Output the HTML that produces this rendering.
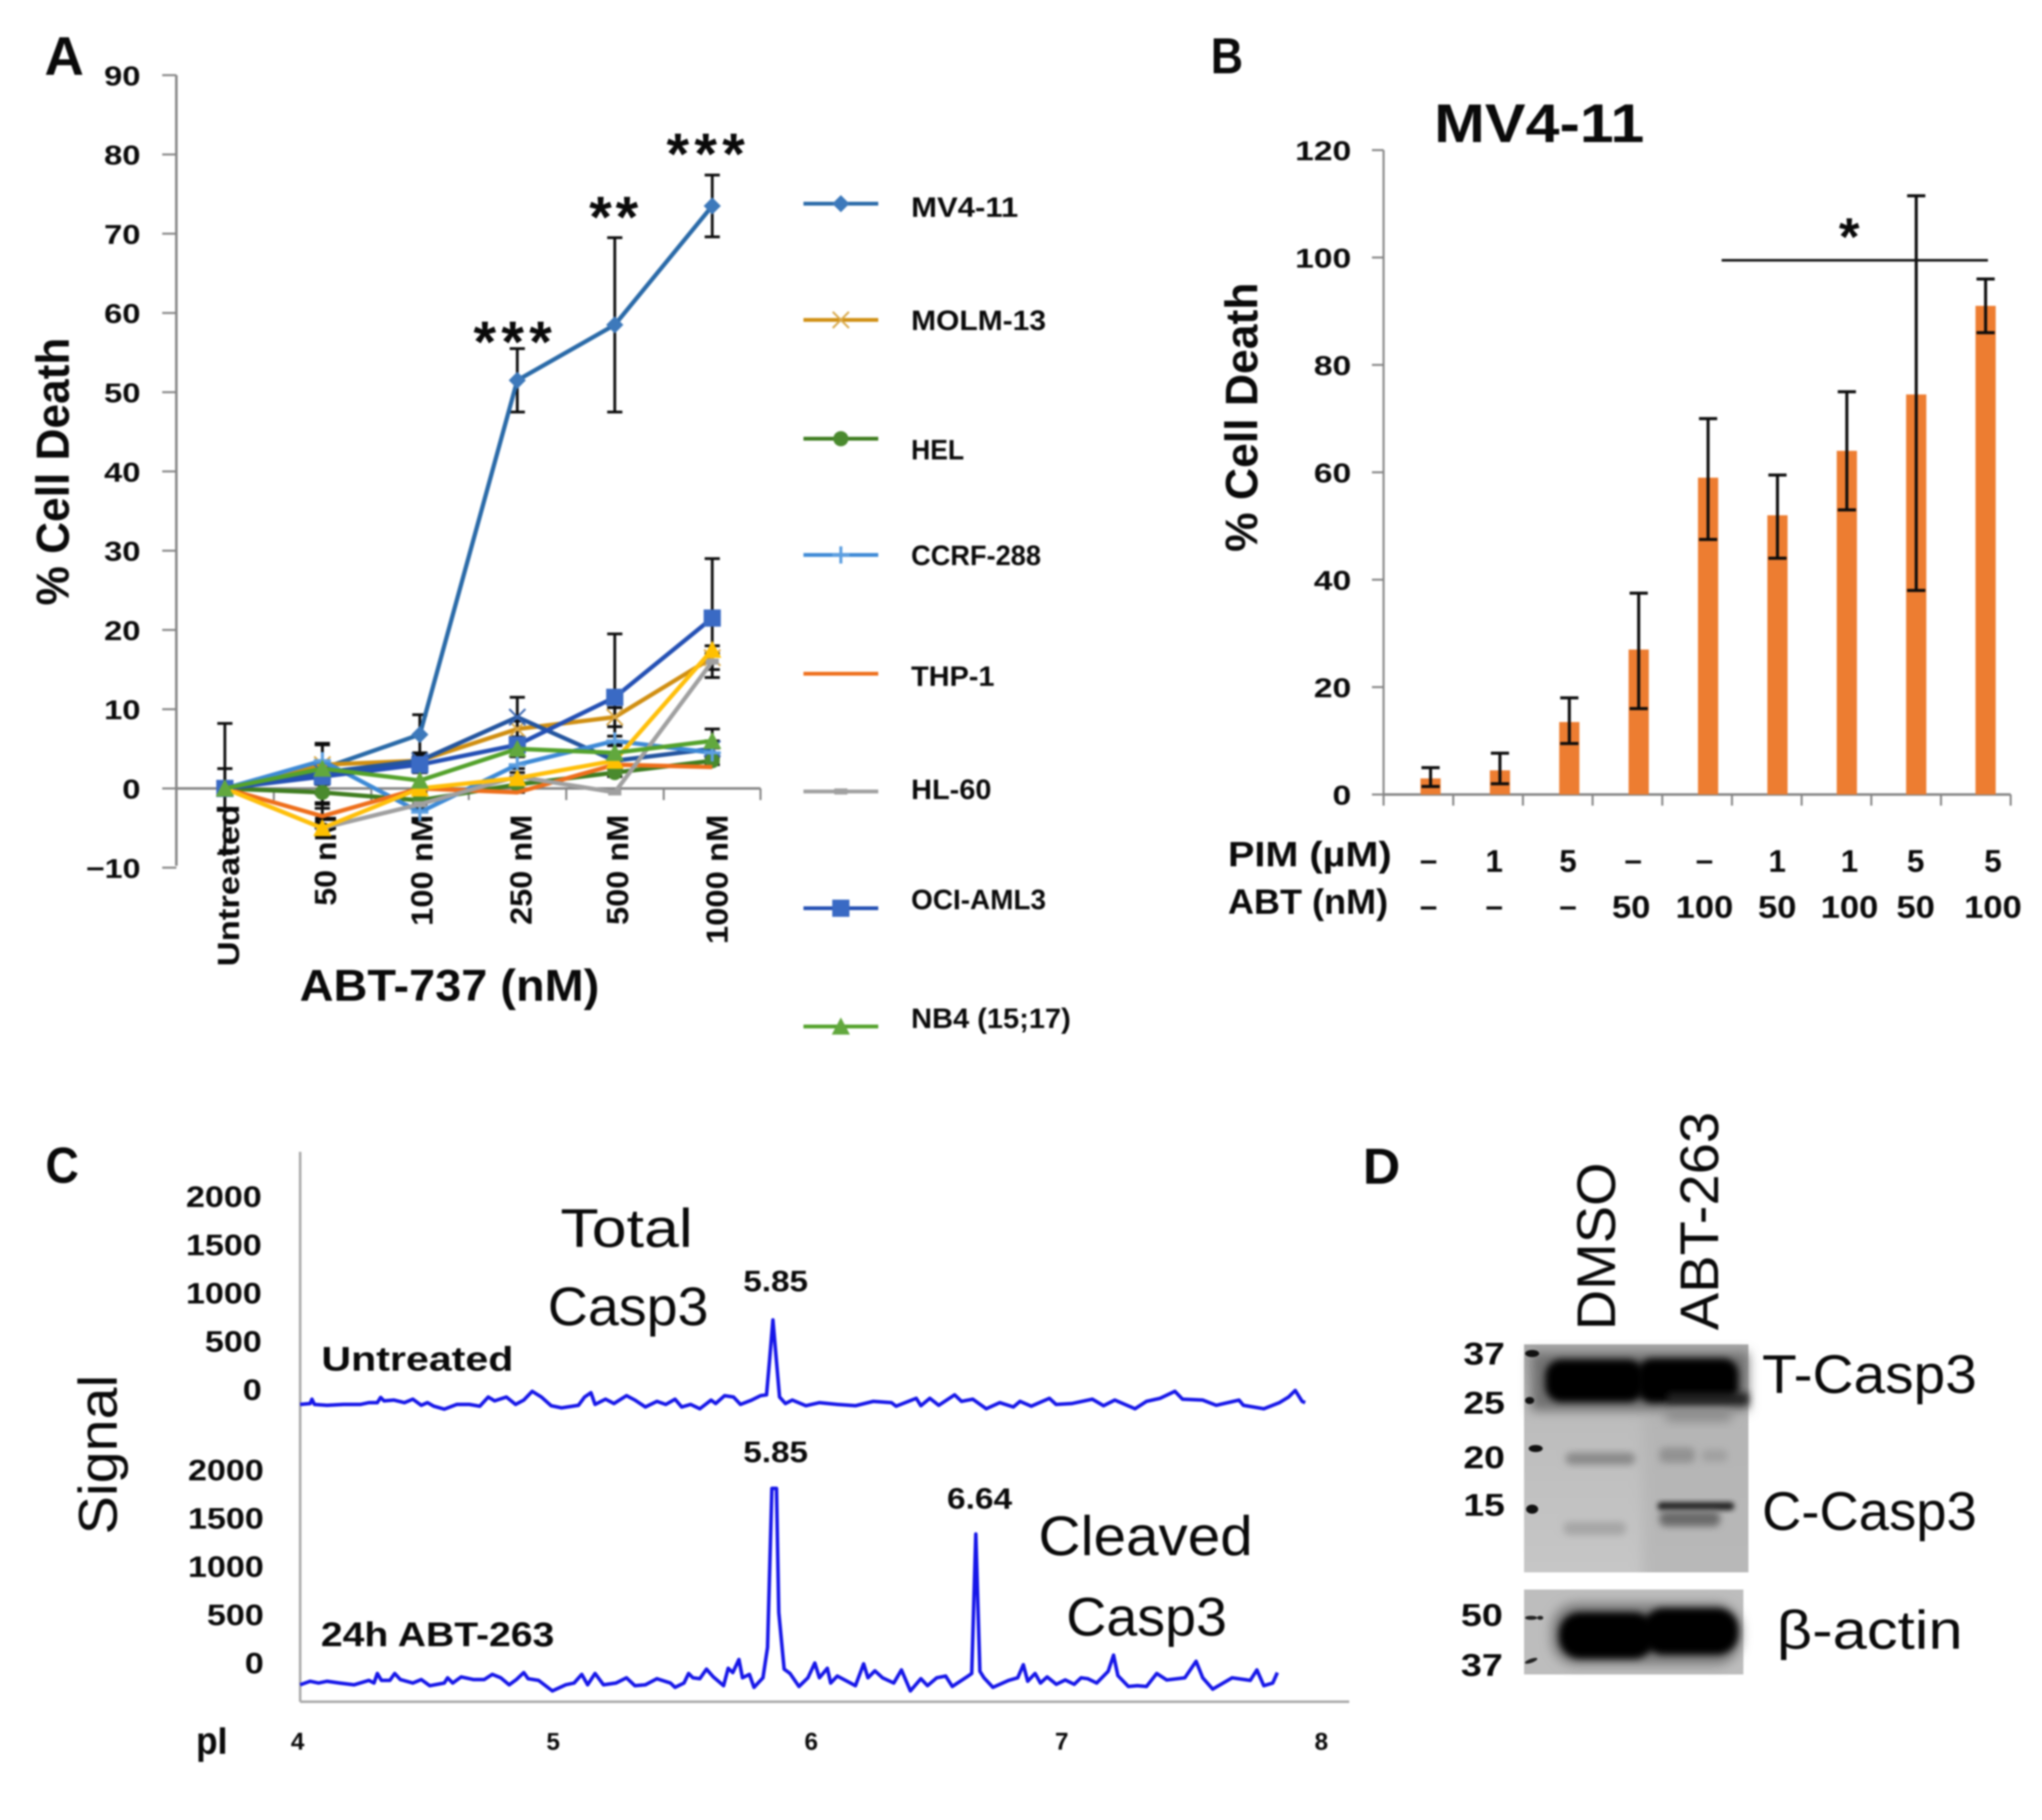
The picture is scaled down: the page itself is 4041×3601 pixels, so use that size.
<!DOCTYPE html>
<html lang="en">
<head>
<meta charset="utf-8">
<title>ABT-737 and ABT-263 figure</title>
<style>
html,body{margin:0;padding:0;background:#fff;}
svg{display:block;filter:blur(1.8px);}
text{font-family:"Liberation Sans",sans-serif;fill:#0a0a0a;}
.b{font-weight:bold;}
</style>
</head>
<body>
<svg id="figure" xmlns="http://www.w3.org/2000/svg" width="4041" height="3601" viewBox="0 0 4041 3601">
<defs>
<filter id="blur4" x="-20%" y="-50%" width="140%" height="200%"><feGaussianBlur stdDeviation="5"/></filter>
<filter id="blur6" x="-20%" y="-50%" width="140%" height="200%"><feGaussianBlur stdDeviation="7"/></filter>
<filter id="blur9" x="-20%" y="-60%" width="140%" height="220%"><feGaussianBlur stdDeviation="11"/></filter>
<linearGradient id="blotGrad" x1="0" y1="0" x2="0" y2="1"><stop offset="0" stop-color="#a8a8a8"/><stop offset="0.3" stop-color="#bcbcbc"/><stop offset="1" stop-color="#c6c6c6"/></linearGradient>
<clipPath id="blotClip"><rect x="3016" y="2660" width="444" height="451"/></clipPath>
</defs>
<rect width="4041" height="3601" fill="#fff"/>

<!-- Panel letters -->
<text class="b" x="88" y="148" font-size="108" textLength="78" lengthAdjust="spacingAndGlyphs">A</text>
<text class="b" x="2396" y="145" font-size="100" textLength="64" lengthAdjust="spacingAndGlyphs">B</text>
<text class="b" x="90" y="2340" font-size="100" textLength="66" lengthAdjust="spacingAndGlyphs">C</text>
<text class="b" x="2697" y="2342" font-size="100" textLength="74" lengthAdjust="spacingAndGlyphs">D</text>

<!-- Panel A -->
<g id="panelA"></g>
<text class="b" transform="translate(136,1198) rotate(-90)" font-size="92" textLength="530" lengthAdjust="spacingAndGlyphs">% Cell Death</text>
<text class="b" x="593" y="1980" font-size="88" textLength="593" lengthAdjust="spacingAndGlyphs">ABT-737 (nM)</text>
<text class="b" x="937" y="716" font-size="115" textLength="155" lengthAdjust="spacing">***</text>
<text class="b" x="1166" y="469" font-size="115" textLength="97" lengthAdjust="spacing">**</text>
<text class="b" x="1319" y="344" font-size="115" textLength="155" lengthAdjust="spacing">***</text>

<!-- Panel B -->
<g id="panelB"></g>
<text class="b" x="2838" y="281" font-size="108" textLength="416" lengthAdjust="spacingAndGlyphs">MV4-11</text>
<text class="b" transform="translate(2488,1092) rotate(-90)" font-size="90" textLength="533" lengthAdjust="spacingAndGlyphs">% Cell Death</text>
<line x1="3407" x2="3934" y1="515" y2="515" stroke="#111" stroke-width="5"/>
<text class="b" x="3639" y="504" font-size="105">*</text>
<text class="b" x="2430" y="1714" font-size="70" textLength="324" lengthAdjust="spacingAndGlyphs">PIM (µM)</text>
<text class="b" x="2430" y="1808" font-size="70" textLength="317" lengthAdjust="spacingAndGlyphs">ABT (nM)</text>

<!-- Panel C -->
<g id="panelC"></g>
<text transform="translate(231,3036) rotate(-90)" font-size="108" textLength="316" lengthAdjust="spacingAndGlyphs">Signal</text>
<text class="b" x="388" y="3470" font-size="76" textLength="62" lengthAdjust="spacingAndGlyphs">pI</text>
<text class="b" x="636" y="2712" font-size="68" textLength="380" lengthAdjust="spacingAndGlyphs">Untreated</text>
<text class="b" x="635" y="3257" font-size="68" textLength="462" lengthAdjust="spacingAndGlyphs">24h ABT-263</text>
<text x="1109" y="2467" font-size="108" textLength="262" lengthAdjust="spacingAndGlyphs">Total</text>
<text x="1084" y="2622" font-size="108" textLength="318" lengthAdjust="spacingAndGlyphs">Casp3</text>
<text class="b" x="1471" y="2555" font-size="58" textLength="128" lengthAdjust="spacingAndGlyphs">5.85</text>
<text class="b" x="1471" y="2893" font-size="58" textLength="128" lengthAdjust="spacingAndGlyphs">5.85</text>
<text class="b" x="1874" y="2985" font-size="58" textLength="129" lengthAdjust="spacingAndGlyphs">6.64</text>
<text x="2055" y="3077" font-size="110" textLength="424" lengthAdjust="spacingAndGlyphs">Cleaved</text>
<text x="2110" y="3236" font-size="108" textLength="318" lengthAdjust="spacingAndGlyphs">Casp3</text>

<!-- Panel D -->
<g>
  <text transform="translate(3196,2632) rotate(-90)" font-size="108" textLength="332" lengthAdjust="spacingAndGlyphs">DMSO</text>
  <text transform="translate(3400,2632) rotate(-90)" font-size="108" textLength="432" lengthAdjust="spacingAndGlyphs">ABT-263</text>
  <g>
    <rect x="3016" y="2660" width="444" height="451" fill="url(#blotGrad)"/>
    <g clip-path="url(#blotClip)"><rect x="3250" y="2800" width="240" height="340" fill="#b0b0b0" opacity="0.6" filter="url(#blur9)"/></g>
    <rect x="3030" y="2676" width="430" height="115" fill="#6f6f6f" filter="url(#blur9)"/>
    <rect x="3058" y="2690" width="196" height="84" rx="32" fill="#030303" filter="url(#blur6)"/>
    <rect x="3240" y="2688" width="200" height="88" rx="30" fill="#030303" filter="url(#blur6)"/>
    <rect x="3300" y="2756" width="160" height="24" fill="#222" filter="url(#blur6)"/>
    <rect x="3296" y="2786" width="130" height="26" fill="#8a8a8a" filter="url(#blur9)"/>
    <rect x="3098" y="2874" width="138" height="24" rx="12" fill="#8a8a8a" filter="url(#blur6)"/>
    <rect x="3284" y="2864" width="70" height="30" rx="10" fill="#929292" filter="url(#blur6)"/>
    <rect x="3368" y="2868" width="50" height="24" rx="10" fill="#a0a0a0" filter="url(#blur6)"/>
    <rect x="3280" y="2972" width="152" height="16" rx="8" fill="#222" filter="url(#blur4)"/>
    <rect x="3284" y="2990" width="120" height="30" rx="12" fill="#6a6a6a" filter="url(#blur6)"/>
    <rect x="3094" y="3011" width="124" height="26" rx="12" fill="#a6a6a6" filter="url(#blur6)"/>
    <ellipse cx="3032" cy="2678" rx="14" ry="7" fill="#111"/>
    <ellipse cx="3027" cy="2771" rx="9" ry="7" fill="#111"/>
    <ellipse cx="3039" cy="2866" rx="14" ry="7" fill="#111"/>
    <ellipse cx="3032" cy="2986" rx="12" ry="9" fill="#111"/>
  </g>
  <g>
    <rect x="3016" y="3145" width="434" height="168" fill="#bdbdbd"/>
    <rect x="3070" y="3172" width="375" height="122" rx="50" fill="#7a7a7a" filter="url(#blur9)"/>
    <rect x="3085" y="3190" width="190" height="92" rx="42" fill="#030303" filter="url(#blur6)"/>
    <rect x="3250" y="3182" width="190" height="92" rx="42" fill="#030303" filter="url(#blur6)"/>
    <ellipse cx="3030" cy="3201" rx="12" ry="4" fill="#222"/>
    <ellipse cx="3048" cy="3201" rx="6" ry="4" fill="#222"/>
    <ellipse cx="3030" cy="3286" rx="13" ry="4" fill="#222" transform="rotate(-20 3030 3286)"/>
  </g>
  <text class="b" x="2896" y="2700" font-size="62" textLength="82" lengthAdjust="spacingAndGlyphs">37</text>
  <text class="b" x="2896" y="2797" font-size="62" textLength="82" lengthAdjust="spacingAndGlyphs">25</text>
  <text class="b" x="2896" y="2905" font-size="62" textLength="82" lengthAdjust="spacingAndGlyphs">20</text>
  <text class="b" x="2896" y="2999" font-size="62" textLength="82" lengthAdjust="spacingAndGlyphs">15</text>
  <text class="b" x="2891" y="3217" font-size="62" textLength="83" lengthAdjust="spacingAndGlyphs">50</text>
  <text class="b" x="2891" y="3316" font-size="62" textLength="83" lengthAdjust="spacingAndGlyphs">37</text>
  <text x="3487" y="2756" font-size="108" textLength="425" lengthAdjust="spacingAndGlyphs">T-Casp3</text>
  <text x="3487" y="3027" font-size="108" textLength="425" lengthAdjust="spacingAndGlyphs">C-Casp3</text>
  <text x="3516" y="3262" font-size="108" textLength="368" lengthAdjust="spacingAndGlyphs">β-actin</text>
</g>

<script>
// ---------- Panel A data ----------
const doseLabels = ['Untreated', '50 nM', '100 nM', '250 nM', '500 nM', '1000 nM'];
const aYTicks = [-10, 0, 10, 20, 30, 40, 50, 60, 70, 80, 90];
const seriesNames = ['MV4-11', 'MOLM-13', 'HEL', 'CCRF-288', 'THP-1', 'HL-60', 'OCI-AML3', 'NB4 (15;17)'];
const mv411Values = [0, 2.5, 6.8, 51.5, 58.5, 73.5];
const molm13Values = [0, 3, 3.5, 7.5, 9, 16.5];
const helValues = [0, -0.5, -1.5, 0.5, 2, 3.5];
const ccrfValues = [0, 3.5, -3, 3, 6, 4.5];
const thp1Values = [0, -3.5, 0, -0.5, 3, 2.7];
const hl60Values = [0, -5, -2, 1.5, -0.5, 16];
const ociValues = [0, 1.5, 3, 5.5, 11.5, 21.5];
const nb4Values = [0, 2.5, 1, 5, 4.5, 6];
const yellowValues = [0, -5, 0, 1.3, 3.5, 17.5];
const navyValues = [0, 2, 3.5, 9, 3.5, 5];
const mv411Err = [8.2, 3.2, 2.5, 4, 11, 3.9];
const molm13Err = [0, 2.5, 0.5, 1, 1.2, 1.5];
const helErr = [0, 1.3, 1, 1, 0.5, 0.5];
const ccrfErr = [2.5, 2, 1, 1, 0.6, 0.6];
const thp1Err = [0, 1.5, 0, 0, 0, 0];
const hl60Err = [0, 0, 0, 0, 0, 1];
const ociErr = [0, 4, 1, 3, 8, 7.5];
const nb4Err = [0, 1, 1, 1, 1, 1.5];
const yellowErr = [0, 0, 0, 0, 0, 0];
const navyErr = [0, 1, 1, 2.5, 1, 1];

// ---------- Panel B data ----------
const pimLabels = ['–', '1', '5', '–', '–', '1', '1', '5', '5'];
const abtLabels = ['–', '–', '–', '50', '100', '50', '100', '50', '100'];
const bYTicks = [0, 20, 40, 60, 80, 100, 120];
const deathValues = [3, 4.5, 13.5, 27, 59, 52, 64, 74.5, 91];
const deathUpper = [5, 7.7, 18, 37.5, 70, 59.5, 75, 111.5, 96];
const deathLower = [1.5, 2, 9.5, 16, 47.5, 44, 53, 38, 86];

// ---------- Panel C data ----------
const cXTicks = [4, 5, 6, 7, 8];
const cYTicks = [0, 500, 1000, 1500, 2000];
const untreatedPI = [4.000,4.039,4.046,4.056,4.105,4.170,4.236,4.269,4.302,4.315,4.328,4.367,4.408,4.441,4.474,4.498,4.523,4.564,4.613,4.662,4.703,4.736,4.761,4.807,4.843,4.875,4.908,4.944,4.982,5.023,5.089,5.113,5.138,5.154,5.195,5.228,5.277,5.310,5.351,5.396,5.431,5.467,5.493,5.528,5.564,5.608,5.626,5.661,5.696,5.723,5.767,5.802,5.825,5.837,5.850,5.862,5.876,5.899,5.926,5.979,6.032,6.102,6.173,6.243,6.314,6.332,6.411,6.429,6.464,6.499,6.561,6.588,6.632,6.685,6.738,6.791,6.817,6.861,6.932,6.958,7.020,7.100,7.144,7.188,7.267,7.312,7.365,7.423,7.453,7.532,7.585,7.674,7.691,7.771,7.832,7.868,7.894,7.921,7.933];
const untreatedSignal = [-9,0,44,-9,-18,-9,-9,9,9,62,27,35,9,44,-18,9,-27,-57,-9,-9,-27,66,27,66,-9,35,124,66,-22,-44,-18,66,110,-9,44,0,80,35,-35,22,-9,44,-35,-9,-53,35,0,80,66,-9,35,80,88,442,849,486,66,0,35,-22,9,-9,-22,22,9,-27,53,-22,53,-18,88,22,44,-53,9,-35,22,-27,53,-9,0,44,-22,35,-53,22,53,124,44,35,-18,35,-18,-53,9,66,133,22,9];
const treatedPI = [4.000,4.039,4.072,4.105,4.154,4.211,4.269,4.289,4.302,4.318,4.351,4.370,4.392,4.441,4.474,4.507,4.564,4.577,4.597,4.630,4.679,4.720,4.752,4.785,4.818,4.846,4.875,4.892,4.933,4.987,5.039,5.072,5.102,5.125,5.154,5.187,5.236,5.277,5.310,5.351,5.396,5.449,5.467,5.502,5.520,5.537,5.564,5.590,5.617,5.657,5.675,5.693,5.717,5.731,5.758,5.776,5.811,5.829,5.846,5.864,5.873,5.894,5.917,5.952,5.987,6.014,6.032,6.063,6.076,6.102,6.173,6.205,6.222,6.249,6.279,6.323,6.353,6.388,6.429,6.455,6.491,6.526,6.552,6.614,6.628,6.644,6.660,6.676,6.711,6.773,6.808,6.830,6.847,6.876,6.897,6.923,6.959,6.994,7.029,7.056,7.082,7.117,7.162,7.183,7.200,7.241,7.276,7.312,7.352,7.391,7.462,7.506,7.532,7.571,7.647,7.718,7.744,7.771,7.806,7.824];
const treatedSignal = [-18,18,0,18,0,-18,27,0,97,27,27,97,35,0,35,-27,0,53,0,62,35,35,88,53,-18,35,106,44,27,-80,-18,0,88,-18,97,-18,0,53,-27,-18,44,0,-44,0,97,53,44,141,62,-27,150,106,239,53,88,-44,53,362,1975,1975,716,141,97,-35,53,203,53,150,0,71,-27,195,53,124,53,0,133,-80,44,-27,53,71,-35,71,97,1512,119,53,-44,27,53,186,18,97,0,62,-13,31,-13,53,44,0,119,283,75,-35,-27,-35,97,31,53,221,53,-62,53,27,133,-27,0,106];

// ---------- Axis functions ----------
function xA(i) { return 445 + 192.9 * i; }
function yA(v) { return 1560 - 15.68 * v; }
function xBar(i) { return 2831 + 137.3 * i; }
function yB(v) { return 1572 - 10.625 * v; }
function xC(p) { return 594 + (p - 4) * 505.7; }
function yUntreated(s) { return 2777 - s * 0.195; }
function yTreated(s) { return 3330 - s * 0.195; }

// ---------- Drawing primitives ----------
const NS = 'http://www.w3.org/2000/svg';
function mk(parent, tag, props) {
  const el = document.createElementNS(NS, tag);
  for (const k in props) el.setAttribute(k, props[k]);
  parent.appendChild(el);
  return el;
}
function seg(parent, x1, y1, x2, y2, color, w) {
  return mk(parent, 'line', {x1: x1, y1: y1, x2: x2, y2: y2, stroke: color, 'stroke-width': w});
}
function marker(parent, kind, x, y, color, s) {
  if (kind === 'diamond') return mk(parent, 'polygon', {points: [x-s, y, x, y-s, x+s, y, x, y+s].join(' '), fill: color});
  if (kind === 'square') return mk(parent, 'rect', {x: x-s, y: y-s, width: 2*s, height: 2*s, fill: color});
  if (kind === 'circle') return mk(parent, 'circle', {cx: x, cy: y, r: s, fill: color});
  if (kind === 'triangle') return mk(parent, 'polygon', {points: [x-s-2, y+s, x, y-s-2, x+s+2, y+s].join(' '), fill: color});
  if (kind === 'x') return mk(parent, 'path', {d: 'M'+(x-s)+' '+(y-s)+'L'+(x+s)+' '+(y+s)+'M'+(x-s)+' '+(y+s)+'L'+(x+s)+' '+(y-s), stroke: color, 'stroke-width': 4, fill: 'none'});
  if (kind === 'plus') return mk(parent, 'path', {d: 'M'+x+' '+(y-s)+'L'+x+' '+(y+s)+'M'+(x-s)+' '+y+'L'+(x+s)+' '+y, stroke: color, 'stroke-width': 6, fill: 'none'});
  if (kind === 'dash') return mk(parent, 'rect', {x: x-s, y: y-6, width: 2*s, height: 12, fill: color});
  return null;
}

// ---------- Panel A ----------
const gA = document.getElementById('panelA');
const axisGray = '#858585';
const aYAxis = seg(gA, 349, yA(90), 349, 1713, axisGray, 5);


const aXAxis = seg(gA, 349, yA(0), 1505, yA(0), axisGray, 5);


aYTicks.forEach(function (v) {
  const tick = seg(gA, 321, yA(v), 349, yA(v), axisGray, 4);
  
  
  const text = v < 0 ? '−' + Math.abs(v) : String(v);
  const label = mk(gA, 'text', {x: 278, y: yA(v) + 20, 'text-anchor': 'end', 'font-size': 54, 'class': 'b', textLength: v < 0 ? 108 : text.length * 36, lengthAdjust: 'spacingAndGlyphs'});
  label.textContent = text;
  
  
});
doseLabels.forEach(function (name, i) {
  const tick = seg(gA, xA(i) - 96, yA(0), xA(i) - 96, yA(0) + 23, axisGray, 4);
  
  
});
const aLastTick = seg(gA, 1505, yA(0), 1505, yA(0) + 23, axisGray, 4);



const seriesData = [mv411Values, molm13Values, navyValues, helValues, ccrfValues, thp1Values, hl60Values, ociValues, yellowValues, nb4Values];
const seriesErrs = [mv411Err, molm13Err, navyErr, helErr, ccrfErr, thp1Err, hl60Err, ociErr, yellowErr, nb4Err];
const seriesIds = ['mv4-11', 'molm-13', 'navy-unlabelled', 'hel', 'ccrf-288', 'thp-1', 'hl-60', 'oci-aml3', 'yellow-unlabelled', 'nb4'];
const seriesColors = ['#2a6aa8', '#d08f12', '#24559f', '#3f7d20', '#3e8ad6', '#ee6f1c', '#a0a0a0', '#2450b4', '#ffbf0a', '#54a22c'];
const markerColors = ['#3d79bb', '#d9a94a', '#3a66b0', '#4a8a2e', '#5d9fe0', '#ee6f1c', '#a0a0a0', '#3a6ac4', '#ffc000', '#62a83e'];
const markerKinds = ['diamond', 'x', 'x', 'circle', 'plus', 'none', 'dash', 'square', 'triangle', 'triangle'];
const markerSizes = [17, 16, 16, 15, 17, 0, 13, 17, 16, 16];

seriesErrs.forEach(function (errs, s) {
  errs.forEach(function (e, i) {
    if (!e) return;
    const v = seriesData[s][i];
    const bar = mk(gA, 'path', {d: 'M' + (xA(i) - 15) + ' ' + yA(v + e) + 'H' + (xA(i) + 15) + 'M' + xA(i) + ' ' + yA(v + e) + 'V' + yA(v - e) + 'M' + (xA(i) - 15) + ' ' + yA(v - e) + 'H' + (xA(i) + 15), stroke: '#0c0c0c', 'stroke-width': 5.5, fill: 'none'});
    
    
  });
});
doseLabels.forEach(function (name, i) {
  const endX = [473, 665, 856, 1052, 1243, 1440];
  const endY = [1592, 1612, 1612, 1612, 1612, 1612];
  const label = mk(gA, 'text', {transform: 'translate(' + endX[i] + ',' + endY[i] + ') rotate(-90)', 'text-anchor': 'end', 'font-size': 60, 'class': 'b', textLength: [320, 180, 220, 218, 218, 256][i], lengthAdjust: 'spacingAndGlyphs'});
  label.textContent = name;
  
  
});
seriesData.forEach(function (vals, s) {
  const line = mk(gA, 'polyline', {points: vals.map(function (v, i) { return xA(i) + ',' + yA(v); }).join(' '), fill: 'none', stroke: seriesColors[s], 'stroke-width': 8.5, 'stroke-linejoin': 'round'});
  
  
  vals.forEach(function (v, i) {
    const m = marker(gA, markerKinds[s], xA(i), yA(v), markerColors[s], markerSizes[s]);
    if (m) {
      
      
    }
  });
});

// Legend
const legendRows = [403, 633, 868, 1098, 1333, 1566, 1797, 2031];
const legendBaselines = [429, 653, 909, 1118, 1357, 1581, 1799, 2034];
const legendWidths = [212, 267, 105, 257, 165, 159, 267, 316];
const legendSeries = [0, 1, 3, 4, 5, 6, 7, 9];
seriesNames.forEach(function (name, k) {
  const s = legendSeries[k];
  const entry = mk(gA, 'g', {});
  
  
  seg(entry, 1590, legendRows[k], 1738, legendRows[k], seriesColors[s], 7.5);
  marker(entry, markerKinds[s], 1664, legendRows[k], markerColors[s], markerSizes[s]);
  const label = mk(entry, 'text', {x: 1803, y: legendBaselines[k], 'font-size': 56, 'class': 'b', textLength: legendWidths[k], lengthAdjust: 'spacingAndGlyphs'});
  label.textContent = name;
});

// ---------- Panel B ----------
const gB = document.getElementById('panelB');
const bYAxis = seg(gB, 2738, yB(120), 2738, yB(0), axisGray, 4);


const bXAxis = seg(gB, 2738, yB(0), 3979, yB(0), axisGray, 5);


bYTicks.forEach(function (v) {
  const tick = seg(gB, 2715, yB(v), 2738, yB(v), axisGray, 4);
  
  
  const len = String(v).length;
  const label = mk(gB, 'text', {x: 2674, y: yB(v) + 20, 'text-anchor': 'end', 'font-size': 54, 'class': 'b', textLength: len * 37, lengthAdjust: 'spacingAndGlyphs'});
  label.textContent = String(v);
  
  
});
for (let t = 0; t <= deathValues.length; t++) {
  const tx = 2738 + t * (1241 / deathValues.length);
  const tick = seg(gB, tx, yB(0), tx, yB(0) + 22, axisGray, 4);
  
  
}
deathValues.forEach(function (v, i) {
  const bar = mk(gB, 'rect', {x: xBar(i) - 20, y: yB(v), width: 40, height: yB(0) - yB(v), fill: '#ed7d31'});
  
  
});
deathValues.forEach(function (v, i) {
  const cx = xBar(i);
  const err = mk(gB, 'path', {d: 'M' + (cx - 18) + ' ' + yB(deathUpper[i]) + 'H' + (cx + 18) + 'M' + cx + ' ' + yB(deathUpper[i]) + 'V' + yB(deathLower[i]) + 'M' + (cx - 18) + ' ' + yB(deathLower[i]) + 'H' + (cx + 18), stroke: '#0c0c0c', 'stroke-width': 6, fill: 'none'});
  
  
});
const tableX = [2827, 2957, 3103, 3232, 3373, 3517, 3660, 3791, 3944];
pimLabels.forEach(function (txt, i) {
  const dash = txt === '–';
  const label = mk(gB, 'text', {x: tableX[i], y: dash ? 1722 : 1725, 'text-anchor': 'middle', 'font-size': 62, 'class': 'b'});
  label.textContent = txt;
  
  
});
abtLabels.forEach(function (txt, i) {
  const dash = txt === '–';
  const label = mk(gB, 'text', {x: tableX[i] - (txt === '50' && i === 3 ? 4 : 0), y: dash ? 1813 : 1816, 'text-anchor': 'middle', 'font-size': 62, 'class': 'b'});
  if (!dash) {
    label.setAttribute('textLength', txt.length * 38);
    label.setAttribute('lengthAdjust', 'spacingAndGlyphs');
  }
  label.textContent = txt;
  
  
});

// ---------- Panel C ----------
const gC = document.getElementById('panelC');
const cYAxis = seg(gC, 594, 2279, 594, 3367, '#a8a8a8', 5);


const cXAxis = seg(gC, 594, 3367, 2670, 3367, '#a8a8a8', 5);


const cTickShift = [-5, -5, 0, -10, -2];
cXTicks.forEach(function (p, i) {
  const label = mk(gC, 'text', {x: xC(p) + cTickShift[i], y: 3462, 'text-anchor': 'middle', 'font-size': 48, 'class': 'b'});
  label.textContent = String(p);
  
  
});
cYTicks.forEach(function (v) {
  const w = String(v).length * 37.5;
  const up = mk(gC, 'text', {x: 518, y: 2770 - v * 0.191, 'text-anchor': 'end', 'font-size': 58, 'class': 'b', textLength: w, lengthAdjust: 'spacingAndGlyphs'});
  up.textContent = String(v);
  
  
  const low = mk(gC, 'text', {x: 522, y: 3311 - v * 0.191, 'text-anchor': 'end', 'font-size': 58, 'class': 'b', textLength: w, lengthAdjust: 'spacingAndGlyphs'});
  low.textContent = String(v);
  
  
});
const traceU = mk(gC, 'polyline', {points: untreatedPI.map(function (p, i) { return xC(p) + ',' + yUntreated(untreatedSignal[i]); }).join(' '), fill: 'none', stroke: '#1616e8', 'stroke-width': 7, 'stroke-linejoin': 'round'});


const traceT = mk(gC, 'polyline', {points: treatedPI.map(function (p, i) { return xC(p) + ',' + yTreated(treatedSignal[i]); }).join(' '), fill: 'none', stroke: '#1616e8', 'stroke-width': 7, 'stroke-linejoin': 'round'});


</script>
</svg>
</body>
</html>
